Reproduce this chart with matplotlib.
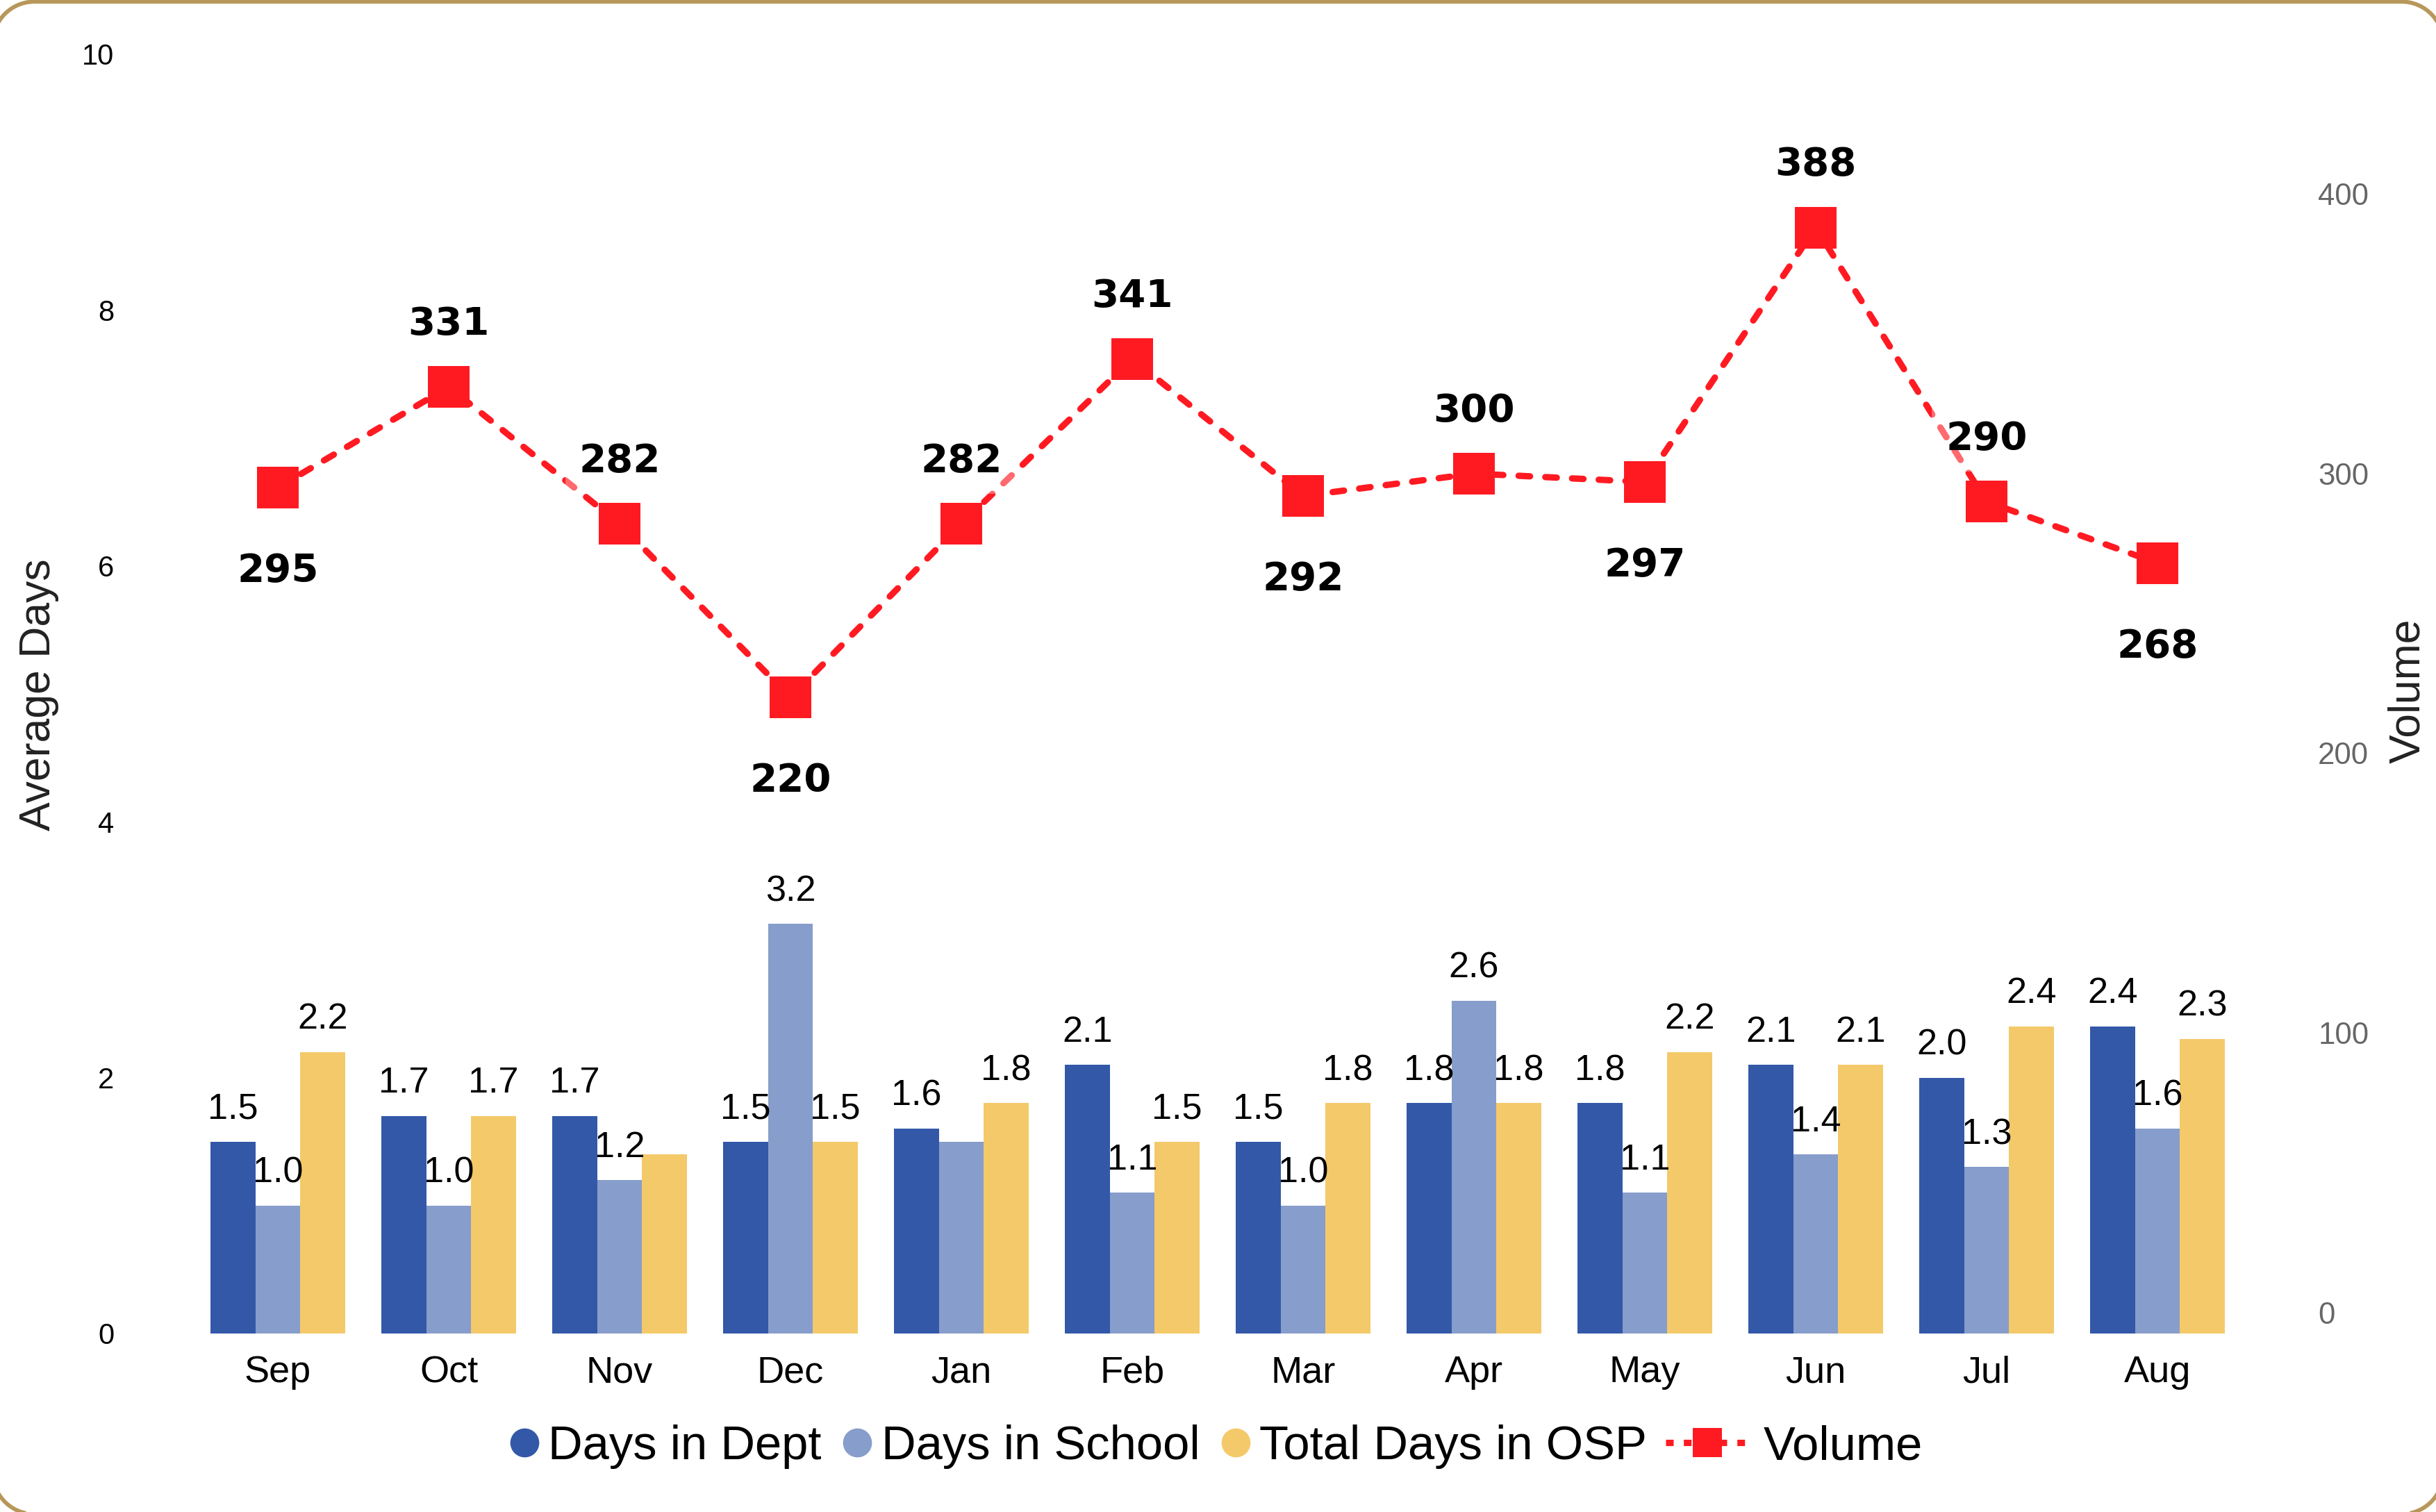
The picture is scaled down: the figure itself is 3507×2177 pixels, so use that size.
import numpy as np
import matplotlib
matplotlib.use("Agg")
import matplotlib.pyplot as plt
from matplotlib.lines import Line2D

plt.rcParams['font.family'] = ['Liberation Sans', 'DejaVu Sans']

# monthly averages (days) and case volume
months = ['Sep', 'Oct', 'Nov', 'Dec', 'Jan', 'Feb', 'Mar', 'Apr', 'May', 'Jun', 'Jul', 'Aug']
days_dept = [1.5, 1.7, 1.7, 1.5, 1.6, 2.1, 1.5, 1.8, 1.8, 2.1, 2.0, 2.4]
days_school = [1.0, 1.0, 1.2, 3.2, 1.5, 1.1, 1.0, 2.6, 1.1, 1.4, 1.3, 1.6]
days_total = [2.2, 1.7, 1.4, 1.5, 1.8, 1.5, 1.8, 1.8, 2.2, 2.1, 2.4, 2.3]
volume = [295, 331, 282, 220, 282, 341, 292, 300, 297, 388, 290, 268]

# which bar labels are shown (some are dropped where they would collide)
show_dept = [True] * 12
show_school = [True, True, True, True, False, True, True, True, True, True, True, True]
show_total = [True, True, False, True, True, True, True, True, True, True, True, True]
# volume label above (True) or below (False) the point
vol_above = [False, True, True, False, True, True, False, True, False, True, True, False]

c_dept = '#3358A8'
c_school = '#879DCB'
c_total = '#F4C96A'
c_vol = '#FF1A22'

W, H = 3507 / 300, 2177 / 300
fig = plt.figure(figsize=(W, H), dpi=300)
ax = fig.add_axes([0.079, 0.1181, 0.8417, 0.8461])

x = np.arange(len(months))
w = 0.263
series = [(days_dept, c_dept, show_dept, -w),
          (days_school, c_school, show_school, 0),
          (days_total, c_total, show_total, w)]
for vals, col, show, off in series:
    ax.bar(x + off, vals, width=w, color=col, zorder=2)
    for xi, v, s in zip(x, vals, show):
        if s:
            ax.annotate(f'{v:.1f}', (xi + off, v), xytext=(0, 8), textcoords='offset points',
                        ha='center', va='baseline', fontsize=12.5, color='black', zorder=3)

ax.set_xlim(-0.5, len(months) - 0.5)
ax.set_ylim(0, 10)
ax.set_yticks([0, 2, 4, 6, 8, 10])
ax.set_xticks(x)
ax.set_xticklabels(months, fontsize=13)
ax.tick_params(axis='y', length=0, pad=27, labelsize=10, labelcolor='black')
ax.tick_params(axis='x', length=0, pad=7.5)
for s in ax.spines.values():
    s.set_visible(False)

ax2 = ax.twinx()
ax2.set_ylim(-7.5, 450)
ax2.set_yticks([0, 100, 200, 300, 400])
ax2.tick_params(axis='y', length=0, pad=26, labelsize=10.5, labelcolor='#666666')
for s in ax2.spines.values():
    s.set_visible(False)

ax2.plot(x, volume, color=c_vol, lw=2.2, dashes=(1.8, 2.4), dash_capstyle='round',
         marker='s', markersize=14.4, markerfacecolor=c_vol, markeredgewidth=0, zorder=4)
for xi, v, up in zip(x, volume, vol_above):
    dy = 18 if up else -32.5
    ax2.annotate(str(v), (xi, v), xytext=(0, dy), textcoords='offset points',
                 ha='center', va='baseline', fontsize=13.5, fontweight='bold',
                 family='DejaVu Sans', color='black', zorder=5,
                 bbox=dict(boxstyle='square,pad=0.35', facecolor='white', edgecolor='none', alpha=0.35))

fig.text(56 / 3507, 1 - 1000 / 2177, 'Average Days', rotation=90, ha='center', va='center',
         fontsize=15, color='#222222')
fig.text(3467 / 3507, 1 - 995 / 2177, 'Volume', rotation=90, ha='center', va='center',
         fontsize=15, color='#222222')

# legend: bar series with round dots, then the volume line with a longer handle
leg_y = 1 - 2083 / 2177
bar_handles = [Line2D([], [], ls='none', marker='o', markersize=9, color=c)
               for c in (c_dept, c_school, c_total)]
leg1 = fig.legend(bar_handles, ['Days in Dept', 'Days in School', 'Total Days in OSP'],
                  loc='center right', bbox_to_anchor=(2371 / 3507, leg_y), ncol=3,
                  frameon=False, fontsize=16.5, handlelength=0.6, handletextpad=0.2,
                  columnspacing=0.45, borderpad=0, borderaxespad=0, numpoints=1)
vol_handle = Line2D([], [], color=c_vol, lw=2.2, dashes=(1.2, 1.6), marker='s',
                    markersize=10, markeredgewidth=0)
leg2 = fig.legend([vol_handle], ['Volume'], loc='center left',
                  bbox_to_anchor=(2398 / 3507, leg_y), frameon=False, fontsize=16.5,
                  handlelength=1.75, handletextpad=0.3, borderpad=0, borderaxespad=0,
                  numpoints=1)

# rounded card outline (inches); the sides sit just outside the canvas
x0, x1, y0, y1, r = -0.035, W + 0.035, -0.01, H - 0.008, 0.2
t = np.linspace(0, np.pi / 2, 30)
bx = np.concatenate([x1 - r + r * np.cos(t), x0 + r - r * np.sin(t),
                     x0 + r - r * np.cos(t), x1 - r + r * np.sin(t), [x1]])
by = np.concatenate([y1 - r + r * np.sin(t), y1 - r + r * np.cos(t),
                     y0 + r - r * np.sin(t), y0 + r - r * np.cos(t), [y1 - r]])
fig.add_artist(Line2D(bx, by, transform=fig.dpi_scale_trans, color='#B8975A', lw=1.4,
                      solid_joinstyle='round'))

fig.savefig('out.png', dpi=300)
